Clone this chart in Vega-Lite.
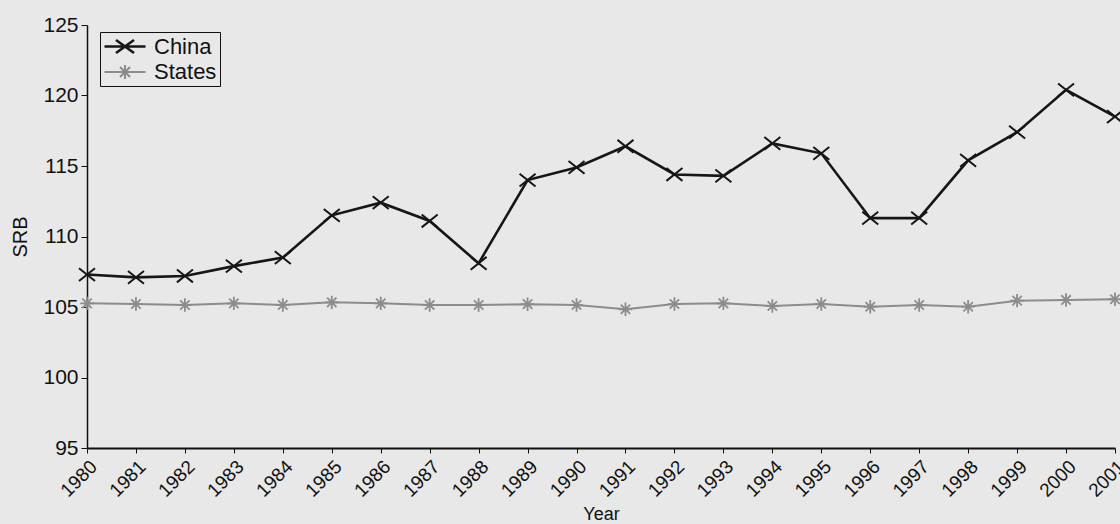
{
  "$schema": "https://vega.github.io/schema/vega-lite/v6.json",
  "width": 1028,
  "height": 423,
  "autosize": {"type": "none"},
  "padding": {"left": 87, "top": 25, "right": 5, "bottom": 76},
  "background": "#e8e8e8",
  "config": {
    "view": {"stroke": null},
    "font": "Liberation Sans",
    "axis": {"grid": false, "domainColor": "#111", "tickColor": "#111", "labelColor": "#111", "titleColor": "#111", "labelFont": "Liberation Sans", "titleFont": "Liberation Sans", "titleFontWeight": "normal"}
  },
  "data": {
    "values": [
      {"Year": 1980, "Country": "China", "SRB": 107.3},
      {"Year": 1981, "Country": "China", "SRB": 107.1},
      {"Year": 1982, "Country": "China", "SRB": 107.2},
      {"Year": 1983, "Country": "China", "SRB": 107.9},
      {"Year": 1984, "Country": "China", "SRB": 108.5},
      {"Year": 1985, "Country": "China", "SRB": 111.5},
      {"Year": 1986, "Country": "China", "SRB": 112.4},
      {"Year": 1987, "Country": "China", "SRB": 111.1},
      {"Year": 1988, "Country": "China", "SRB": 108.1},
      {"Year": 1989, "Country": "China", "SRB": 114.0},
      {"Year": 1990, "Country": "China", "SRB": 114.9},
      {"Year": 1991, "Country": "China", "SRB": 116.4},
      {"Year": 1992, "Country": "China", "SRB": 114.4},
      {"Year": 1993, "Country": "China", "SRB": 114.3},
      {"Year": 1994, "Country": "China", "SRB": 116.6},
      {"Year": 1995, "Country": "China", "SRB": 115.9},
      {"Year": 1996, "Country": "China", "SRB": 111.3},
      {"Year": 1997, "Country": "China", "SRB": 111.3},
      {"Year": 1998, "Country": "China", "SRB": 115.4},
      {"Year": 1999, "Country": "China", "SRB": 117.4},
      {"Year": 2000, "Country": "China", "SRB": 120.4},
      {"Year": 2001, "Country": "China", "SRB": 118.5},
      {"Year": 1980, "Country": "States", "SRB": 105.26},
      {"Year": 1981, "Country": "States", "SRB": 105.21},
      {"Year": 1982, "Country": "States", "SRB": 105.14},
      {"Year": 1983, "Country": "States", "SRB": 105.26},
      {"Year": 1984, "Country": "States", "SRB": 105.14},
      {"Year": 1985, "Country": "States", "SRB": 105.33},
      {"Year": 1986, "Country": "States", "SRB": 105.26},
      {"Year": 1987, "Country": "States", "SRB": 105.14},
      {"Year": 1988, "Country": "States", "SRB": 105.14},
      {"Year": 1989, "Country": "States", "SRB": 105.2},
      {"Year": 1990, "Country": "States", "SRB": 105.14},
      {"Year": 1991, "Country": "States", "SRB": 104.84},
      {"Year": 1992, "Country": "States", "SRB": 105.21},
      {"Year": 1993, "Country": "States", "SRB": 105.26},
      {"Year": 1994, "Country": "States", "SRB": 105.07},
      {"Year": 1995, "Country": "States", "SRB": 105.21},
      {"Year": 1996, "Country": "States", "SRB": 105.02},
      {"Year": 1997, "Country": "States", "SRB": 105.14},
      {"Year": 1998, "Country": "States", "SRB": 105.02},
      {"Year": 1999, "Country": "States", "SRB": 105.45},
      {"Year": 2000, "Country": "States", "SRB": 105.5},
      {"Year": 2001, "Country": "States", "SRB": 105.55}
    ]
  },
  "encoding": {
    "x": {
      "field": "Year", "type": "ordinal",
      "scale": {"type": "point", "padding": 0},
      "axis": {"title": "Year", "labelAngle": -45, "labelFontSize": 19, "titleFontSize": 18, "tickSize": 5, "domainWidth": 2, "labelPadding": 4, "titlePadding": 5}
    },
    "y": {
      "field": "SRB", "type": "quantitative",
      "scale": {"domain": [95, 125], "nice": false, "zero": false},
      "axis": {"title": "SRB", "values": [95, 100, 105, 110, 115, 120, 125], "labelFontSize": 21, "titleFontSize": 20, "tickSize": 6, "labelPadding": 3, "titlePadding": 12, "domainWidth": 1.5}
    },
    "color": {
      "field": "Country", "type": "nominal",
      "scale": {"domain": ["China", "States"], "range": ["#161616", "#8c8c8c"]},
      "legend": {
        "title": null,
        "orient": "none",
        "legendX": 13,
        "legendY": 7,
        "strokeColor": "#111",
        "padding": 3,
        "labelFontSize": 22,
        "labelColor": "#111",
        "labelFont": "Liberation Sans",
        "symbolSize": 400,
        "symbolStrokeWidth": 2,
        "labelOffset": 28,
        "rowPadding": 2,
        "encode": {
          "symbols": {
            "update": {
              "shape": {"signal": "datum.value === 'China' ? 'M-1,0L3.1,0M0.15,-0.65L1.95,0.65M0.15,0.65L1.95,-0.65' : 'M-1,0L3.1,0M0.35,0L1.75,0M1.05,-0.7L1.05,0.7M0.55,-0.5L1.55,0.5M0.55,0.5L1.55,-0.5'"},
              "size": {"value": 400},
              "fill": {"value": "transparent"}
            }
          }
        }
      }
    }
  },
  "layer": [
    {
      "mark": {"type": "line"},
      "encoding": {
        "strokeWidth": {
          "field": "Country", "type": "nominal",
          "scale": {"domain": ["China", "States"], "range": [2.6, 2]},
          "legend": null
        }
      }
    },
    {
      "transform": [{"filter": "datum.Country === 'China'"}],
      "mark": {"type": "point", "filled": false, "strokeWidth": 2, "size": 256, "opacity": 1, "shape": "M-1,-0.8L1,0.8M-1,0.8L1,-0.8"}
    },
    {
      "transform": [{"filter": "datum.Country === 'States'"}],
      "mark": {"type": "point", "filled": false, "strokeWidth": 1.8, "size": 180, "opacity": 1, "shape": "M-1,0L1,0M0,-1L0,1M-0.7,-0.7L0.7,0.7M-0.7,0.7L0.7,-0.7"}
    }
  ]
}
